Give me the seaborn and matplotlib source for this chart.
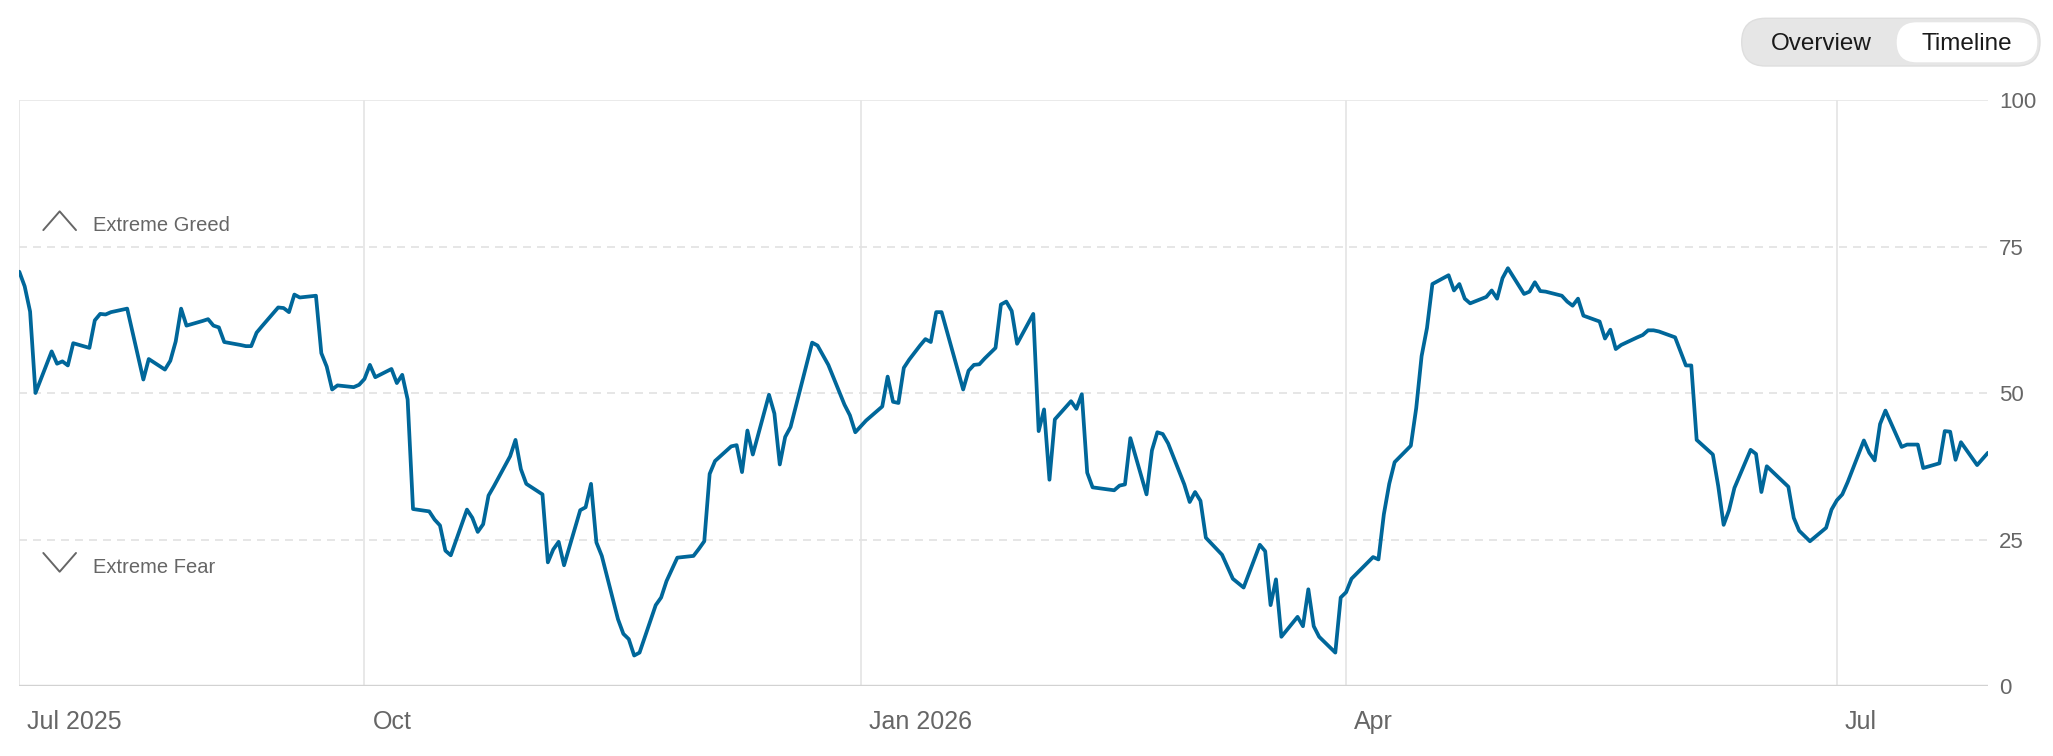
import pandas as pd
import matplotlib
matplotlib.use("Agg")
import matplotlib.pyplot as plt
import matplotlib.transforms as mtransforms
from matplotlib.lines import Line2D
from matplotlib.patches import FancyBboxPatch
import seaborn as sns

# Fear & Greed index readings (date, value)
dates = [
    "2025-07-29", "2025-07-30", "2025-07-31", "2025-08-01", "2025-08-04", "2025-08-05",
    "2025-08-06", "2025-08-07", "2025-08-08", "2025-08-11", "2025-08-12", "2025-08-13",
    "2025-08-14", "2025-08-15", "2025-08-18", "2025-08-21", "2025-08-22", "2025-08-25",
    "2025-08-26", "2025-08-27", "2025-08-28", "2025-08-29", "2025-09-01", "2025-09-02",
    "2025-09-03", "2025-09-04", "2025-09-05", "2025-09-08", "2025-09-09", "2025-09-10",
    "2025-09-11", "2025-09-12", "2025-09-15", "2025-09-16", "2025-09-17", "2025-09-18",
    "2025-09-19", "2025-09-22", "2025-09-23", "2025-09-24", "2025-09-25", "2025-09-26",
    "2025-09-29", "2025-09-30", "2025-10-01", "2025-10-02", "2025-10-03", "2025-10-06",
    "2025-10-07", "2025-10-08", "2025-10-09", "2025-10-10", "2025-10-13", "2025-10-14",
    "2025-10-15", "2025-10-16", "2025-10-17", "2025-10-20", "2025-10-21", "2025-10-22",
    "2025-10-23", "2025-10-24", "2025-10-25", "2025-10-27", "2025-10-28", "2025-10-29",
    "2025-10-30", "2025-10-31", "2025-11-03", "2025-11-04", "2025-11-05", "2025-11-06",
    "2025-11-07", "2025-11-10", "2025-11-11", "2025-11-12", "2025-11-13", "2025-11-14",
    "2025-11-17", "2025-11-18", "2025-11-19", "2025-11-20", "2025-11-21", "2025-11-24",
    "2025-11-25", "2025-11-26", "2025-11-28", "2025-12-01", "2025-12-02", "2025-12-03",
    "2025-12-04", "2025-12-05", "2025-12-08", "2025-12-09", "2025-12-10", "2025-12-11",
    "2025-12-12", "2025-12-15", "2025-12-16", "2025-12-17", "2025-12-18", "2025-12-19",
    "2025-12-23", "2025-12-24", "2025-12-26", "2025-12-29", "2025-12-30", "2025-12-31",
    "2026-01-02", "2026-01-05", "2026-01-06", "2026-01-07", "2026-01-08", "2026-01-09",
    "2026-01-10", "2026-01-12", "2026-01-13", "2026-01-14", "2026-01-15", "2026-01-16",
    "2026-01-20", "2026-01-21", "2026-01-22", "2026-01-23", "2026-01-24", "2026-01-26",
    "2026-01-27", "2026-01-28", "2026-01-29", "2026-01-30", "2026-02-02", "2026-02-03",
    "2026-02-04", "2026-02-05", "2026-02-06", "2026-02-09", "2026-02-10", "2026-02-11",
    "2026-02-12", "2026-02-13", "2026-02-17", "2026-02-18", "2026-02-19", "2026-02-20",
    "2026-02-23", "2026-02-24", "2026-02-25", "2026-02-26", "2026-02-27", "2026-03-02",
    "2026-03-03", "2026-03-04", "2026-03-05", "2026-03-06", "2026-03-09", "2026-03-11",
    "2026-03-13", "2026-03-16", "2026-03-17", "2026-03-18", "2026-03-19", "2026-03-20",
    "2026-03-23", "2026-03-24", "2026-03-25", "2026-03-26", "2026-03-27", "2026-03-30",
    "2026-03-31", "2026-04-01", "2026-04-02", "2026-04-06", "2026-04-07", "2026-04-08",
    "2026-04-09", "2026-04-10", "2026-04-13", "2026-04-14", "2026-04-15", "2026-04-16",
    "2026-04-17", "2026-04-20", "2026-04-21", "2026-04-22", "2026-04-23", "2026-04-24",
    "2026-04-27", "2026-04-28", "2026-04-29", "2026-04-30", "2026-05-01", "2026-05-04",
    "2026-05-05", "2026-05-06", "2026-05-07", "2026-05-08", "2026-05-11", "2026-05-12",
    "2026-05-13", "2026-05-14", "2026-05-15", "2026-05-18", "2026-05-19", "2026-05-20",
    "2026-05-21", "2026-05-22", "2026-05-25", "2026-05-26", "2026-05-27", "2026-05-28",
    "2026-05-29", "2026-06-01", "2026-06-03", "2026-06-04", "2026-06-05", "2026-06-08",
    "2026-06-09", "2026-06-10", "2026-06-11", "2026-06-12", "2026-06-15", "2026-06-16",
    "2026-06-17", "2026-06-18", "2026-06-22", "2026-06-23", "2026-06-24", "2026-06-25",
    "2026-06-26", "2026-06-29", "2026-06-30", "2026-07-01", "2026-07-02", "2026-07-03",
    "2026-07-06", "2026-07-07", "2026-07-08", "2026-07-09", "2026-07-10", "2026-07-13",
    "2026-07-14", "2026-07-16", "2026-07-17", "2026-07-20", "2026-07-21", "2026-07-22",
    "2026-07-23", "2026-07-24", "2026-07-27", "2026-07-29",
]
values = [
    70.7, 68.2, 63.9, 50.0, 57.1, 55.0,
    55.4, 54.7, 58.5, 57.7, 62.4, 63.5,
    63.4, 63.8, 64.4, 52.3, 55.8, 54.0,
    55.5, 58.8, 64.4, 61.5, 62.3, 62.6,
    61.5, 61.2, 58.7, 58.2, 58.0, 58.0,
    60.3, 61.4, 64.6, 64.5, 63.8, 66.8,
    66.3, 66.6, 56.8, 54.5, 50.6, 51.3,
    51.0, 51.4, 52.4, 54.8, 52.7, 54.1,
    51.7, 53.1, 48.9, 30.2, 29.8, 28.4,
    27.4, 23.1, 22.3, 30.1, 28.7, 26.3,
    27.6, 32.5, 34.1, 37.5, 39.2, 42.0,
    37.0, 34.5, 32.7, 21.1, 23.3, 24.6,
    20.6, 30.0, 30.5, 34.5, 24.5, 22.2,
    11.4, 8.9, 8.0, 5.2, 5.7, 13.8,
    15.1, 17.9, 21.9, 22.2, 23.4, 24.7,
    36.2, 38.4, 40.9, 41.1, 36.5, 43.6,
    39.5, 49.7, 46.5, 37.8, 42.5, 44.2,
    58.6, 58.1, 54.8, 48.0, 46.2, 43.3,
    45.3, 47.7, 52.8, 48.5, 48.3, 54.3,
    55.7, 58.1, 59.2, 58.7, 63.8, 63.8,
    50.6, 53.8, 54.8, 54.9, 55.9, 57.7,
    65.1, 65.6, 64.0, 58.4, 63.5, 43.5,
    47.2, 35.2, 45.5, 48.6, 47.3, 49.8,
    36.4, 33.9, 33.4, 34.2, 34.4, 42.3,
    32.7, 40.2, 43.3, 43.0, 41.4, 34.4,
    31.4, 33.1, 31.6, 25.3, 22.4, 18.3,
    16.8, 24.1, 23.0, 13.8, 18.2, 8.4,
    11.8, 10.2, 16.5, 10.2, 8.4, 5.7,
    15.1, 16.0, 18.3, 22.0, 21.6, 29.3,
    34.5, 38.2, 41.0, 47.4, 56.3, 61.1,
    68.6, 70.1, 67.5, 68.6, 66.1, 65.3,
    66.4, 67.5, 66.1, 69.6, 71.3, 66.9,
    67.3, 68.9, 67.4, 67.3, 66.6, 65.6,
    64.9, 66.1, 63.2, 62.2, 59.3, 60.8,
    57.5, 58.2, 59.5, 59.9, 60.7, 60.7,
    60.5, 59.5, 54.7, 54.7, 42.0, 39.5,
    34.1, 27.5, 30.0, 33.8, 40.3, 39.6,
    33.1, 37.5, 34.0, 28.7, 26.5, 25.6,
    24.7, 27.0, 30.1, 31.7, 32.7, 34.8,
    41.9, 39.8, 38.5, 44.7, 47.0, 40.8,
    41.2, 41.2, 37.2, 38.0, 43.5, 43.4,
    38.6, 41.6, 37.7, 39.8,
]

x_start, x_end = "2025-07-29", "2026-07-29"
tick_dates = ["2025-07-29", "2025-10-01", "2026-01-01", "2026-04-01", "2026-07-01"]
tick_labels = ["Jul 2025", "Oct", "Jan 2026", "Apr", "Jul"]
y_ticks = [0, 25, 50, 75, 100]
zone_labels = ["Extreme Greed", "Extreme Fear"]

df = pd.DataFrame({"date": pd.to_datetime(dates), "value": values})

sns.set_style("white")
plt.rcParams["font.family"] = ["Liberation Sans", "DejaVu Sans"]

fig = plt.figure(figsize=(20.53, 7.56), dpi=100)
ax = fig.add_axes([0.0094, 0.0926, 0.9589, 0.7751])

# horizontal reference lines
ax.axhline(100, color="#e6e6e6", lw=1.2, zorder=1)
for lvl in [25, 50, 75]:
    ax.axhline(lvl, color="#e2e2e2", lw=1.2, ls=(0, (4.8, 3.6)), zorder=1)
ax.axhline(0, color="#d2d2d2", lw=1.7, zorder=1)

sns.lineplot(data=df, x="date", y="value", color="#00679a", lw=2.7, ax=ax, zorder=3)

ax.set_xlim(pd.Timestamp(x_start), pd.Timestamp(x_end))
ax.set_ylim(0, 100)
ax.set_xlabel("")
ax.set_ylabel("")
for s in ax.spines.values():
    s.set_visible(False)

# x axis: vertical grid lines that run down past the baseline
ax.set_xticks(pd.to_datetime(tick_dates))
ax.set_xticklabels(tick_labels, ha="left")
ax.grid(axis="x", color="#e6e6e6", lw=1.3)
ax.grid(axis="y", visible=False)
ax.tick_params(axis="x", direction="out", length=26.6, width=1.3, color="#e6e6e6",
               pad=-9.5, labelsize=18, labelcolor="#666666")
offset = mtransforms.ScaledTranslation(0.08, 0, fig.dpi_scale_trans)
for lbl in ax.get_xticklabels():
    lbl.set_transform(lbl.get_transform() + offset)

# y axis on the right
ax.yaxis.tick_right()
ax.set_yticks(y_ticks)
ax.set_yticklabels([str(v) for v in y_ticks])
ax.tick_params(axis="y", length=0, pad=8, labelsize=16, labelcolor="#666666")

# zone markers
ax.text(0.0376, 77.7, zone_labels[0], transform=ax.get_yaxis_transform(),
        fontsize=14.5, color="#666666", va="baseline", ha="left")
ax.text(0.0376, 19.2, zone_labels[1], transform=ax.get_yaxis_transform(),
        fontsize=14.5, color="#666666", va="baseline", ha="left")
ax.add_line(Line2D([0.0122, 0.0205, 0.0288], [77.8, 81.0, 77.8], transform=ax.get_yaxis_transform(),
                   color="#666666", lw=1.4, clip_on=False))
ax.add_line(Line2D([0.0122, 0.0205, 0.0288], [22.7, 19.5, 22.7], transform=ax.get_yaxis_transform(),
                   color="#666666", lw=1.4, clip_on=False))

# Overview / Timeline toggle
fig.patches.append(FancyBboxPatch((17.417, 6.90), 2.983, 0.477,
                                  boxstyle="round,pad=0,rounding_size=0.238",
                                  transform=fig.dpi_scale_trans, fc="#e6e6e6", ec="#dedede", lw=1))
fig.patches.append(FancyBboxPatch((18.967, 6.937), 1.406, 0.40,
                                  boxstyle="round,pad=0,rounding_size=0.2",
                                  transform=fig.dpi_scale_trans, fc="white", ec="none"))
fig.text(18.217, 7.06, "Overview", transform=fig.dpi_scale_trans, fontsize=17.5,
         color="#1a1a1a", ha="center", va="baseline")
fig.text(19.667, 7.06, "Timeline", transform=fig.dpi_scale_trans, fontsize=17.5,
         color="#1a1a1a", ha="center", va="baseline")

fig.savefig("out.png", dpi=100)
